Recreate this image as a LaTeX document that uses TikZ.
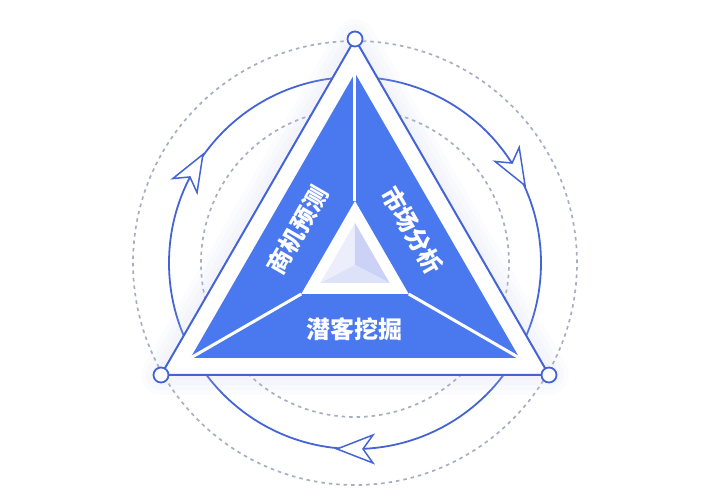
\documentclass[tikz,border=0pt]{standalone}
\usepackage{fontspec}
\newfontfamily\cjk{Noto Sans CJK SC}
\usepackage{xcolor}
\usetikzlibrary{calc}

\definecolor{fillblue}{RGB}{74,120,238}
\definecolor{lineblue}{RGB}{68,100,214}
\definecolor{dotgrey}{RGB}{168,174,194}
\definecolor{glow}{RGB}{196,200,236}
\definecolor{faceL}{RGB}{236,238,252}
\definecolor{faceR}{RGB}{204,210,246}
\definecolor{faceB}{RGB}{222,226,249}

\begin{document}
\begin{tikzpicture}[
  x=1pt, y=1pt,
  ring/.style={draw=lineblue, line width=1.8pt},
  dotring/.style={draw=dotgrey, line width=1.7pt, dash pattern=on 3.5pt off 4pt},
  halo/.style={draw=glow, line join=round, opacity=0.06},
  frame/.style={draw=lineblue, line width=2pt, fill=white, line join=miter},
  vertex/.style={circle, draw=lineblue, line width=1.8pt, fill=white, minimum size=15pt, inner sep=0pt},
  sector/.style={fill=fillblue},
  divider/.style={draw=white, line width=3pt},
  label/.style={text=white, font=\cjk\bfseries\fontsize{24}{24}\selectfont, inner sep=0pt},
  turn/.style={draw=lineblue, line width=1.5pt, fill=white, line join=miter}
]
\useasboundingbox (-355,-237) rectangle (355,263);

% corner points
\coordinate (A) at (90:224);
\coordinate (B) at (210:224);
\coordinate (C) at (330:224);
\coordinate (iA) at (90:190);
\coordinate (iB) at (210:190);
\coordinate (iC) at (330:190);
\coordinate (cA) at (90:62);
\coordinate (cB) at (210:62);
\coordinate (cC) at (330:62);
\coordinate (pA) at (90:40);
\coordinate (pB) at (210:40);
\coordinate (pC) at (330:40);
\coordinate (pO) at (0,-2);

% rings
\draw[dotring] (0,0) circle[radius=222pt];
\draw[dotring] (0,0) circle[radius=154pt];
\draw[ring] (0,0) circle[radius=186pt];

% cycle arrows on the ring
\draw[turn, shift={(30:186)}, rotate=-60] (18,0) -- (-18,14) -- (-8,0) -- (-18,-14) -- cycle;
\draw[turn, shift={(150:186)}, rotate=60] (18,0) -- (-18,14) -- (-8,0) -- (-18,-14) -- cycle;
\draw[turn, shift={(270:186)}, rotate=180] (18,0) -- (-18,14) -- (-8,0) -- (-18,-14) -- cycle;

% soft glow round the frame
\draw[halo, line width=10pt] (A) -- (B) -- (C) -- cycle;
\draw[halo, line width=20pt] (A) -- (B) -- (C) -- cycle;
\draw[halo, line width=30pt] (A) -- (B) -- (C) -- cycle;
\draw[halo, line width=40pt] (A) -- (B) -- (C) -- cycle;

% outer frame and blue sectors
\draw[frame] (A) -- (B) -- (C) -- cycle;
\fill[sector] (iA) -- (iB) -- (iC) -- cycle;
\fill[white] (cA) -- (cB) -- (cC) -- cycle;
\draw[divider] (cA) -- (iA);
\draw[divider] (cB) -- (iB);
\draw[divider] (cC) -- (iC);

% pyramid in the middle
\fill[faceL] (pA) -- (pO) -- (pB) -- cycle;
\fill[faceR] (pA) -- (pO) -- (pC) -- cycle;
\fill[faceB] (pB) -- (pO) -- (pC) -- cycle;

% sector labels
\node[label, rotate=60] (shangji) at (150:66) {商机预测};
\node[label, rotate=-60] (shichang) at (30:66) {市场分析};
\node[label] (qianke) at (270:66) {潜客挖掘};

% vertex rings
\node[vertex] (vA) at (A) {};
\node[vertex] (vB) at (B) {};
\node[vertex] (vC) at (C) {};

\end{tikzpicture}
\end{document}
